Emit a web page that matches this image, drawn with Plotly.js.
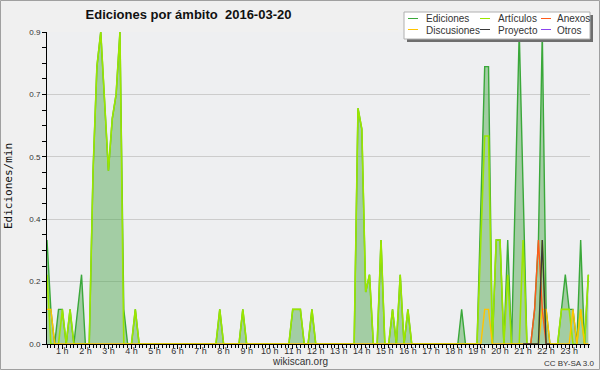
<!DOCTYPE html>
<html>
<head>
<meta charset="utf-8">
<script src="https://cdn.plot.ly/plotly-3.0.1.min.js"></script>
<style>
  html, body { margin: 0; padding: 0; background: #f0f0f0; }
  #chart { width: 600px; height: 370px; }
</style>
</head>
<body>
<div id="chart"></div>
<script>
// ---- time grid: one sample every 10 minutes, 00:20 .. 23:50 ----
const minutes = [];
for (let m = 20; m <= 1430; m += 10) minutes.push(m);

// ---- series values (edits / minute), one line per hour ----
const ediciones = [
  0.3, 0.1, 0, 0.1,                 // 0 h (00:20-00:50)
  0.1, 0, 0.1, 0, 0.1, 0.2,         // 1 h
  0, 0, 0.5, 0.8, 0.9, 0.7,         // 2 h
  0.5, 0.65, 0.72, 0.9, 0.1, 0,     // 3 h
  0, 0.1, 0, 0, 0, 0,               // 4 h
  0, 0, 0, 0, 0, 0,                 // 5 h
  0, 0, 0, 0, 0, 0,                 // 6 h
  0, 0, 0, 0, 0, 0.1,               // 7 h
  0, 0, 0, 0, 0, 0.1,               // 8 h
  0, 0, 0, 0, 0, 0,                 // 9 h
  0, 0, 0, 0, 0, 0,                 // 10 h
  0.1, 0.1, 0.1, 0, 0, 0.1,         // 11 h
  0, 0, 0, 0, 0, 0,                 // 12 h
  0, 0, 0, 0, 0, 0.68,              // 13 h
  0.62, 0.15, 0.2, 0, 0, 0.3,       // 14 h
  0, 0, 0.1, 0, 0.2, 0,             // 15 h
  0.1, 0, 0, 0, 0, 0,               // 16 h
  0, 0, 0, 0, 0, 0,                 // 17 h
  0, 0, 0.1, 0, 0, 0,               // 18 h
  0, 0.4, 0.8, 0.8, 0, 0.3,         // 19 h
  0.3, 0, 0.3, 0, 0.45, 0.9,        // 20 h
  0.45, 0, 0, 0.1, 0.3, 0.9,        // 21 h
  0.1, 0, 0, 0, 0.1, 0.2,           // 22 h
  0.1, 0.1, 0, 0.3, 0, 0.2          // 23 h
];
const articulos = [
  0.2, 0, 0, 0,
  0.1, 0, 0.1, 0, 0, 0,
  0, 0, 0.5, 0.8, 0.9, 0.7,
  0.5, 0.65, 0.72, 0.9, 0, 0,
  0, 0.1, 0, 0, 0, 0,
  0, 0, 0, 0, 0, 0,
  0, 0, 0, 0, 0, 0,
  0, 0, 0, 0, 0, 0.1,
  0, 0, 0, 0, 0, 0.1,
  0, 0, 0, 0, 0, 0,
  0, 0, 0, 0, 0, 0,
  0.1, 0.1, 0.1, 0, 0, 0.1,
  0, 0, 0, 0, 0, 0,
  0, 0, 0, 0, 0, 0.68,
  0.62, 0.15, 0.2, 0, 0, 0.3,
  0, 0, 0.1, 0, 0.2, 0,
  0.1, 0, 0, 0, 0, 0,
  0, 0, 0, 0, 0, 0,
  0, 0, 0, 0, 0, 0,
  0, 0.3, 0.6, 0.6, 0, 0.3,
  0.3, 0, 0.2, 0, 0, 0,
  0.3, 0, 0, 0, 0, 0.3,
  0, 0, 0, 0, 0.1, 0.1,
  0.1, 0, 0, 0.1, 0, 0.2
];
const discusiones = [
  0.1, 0.1, 0, 0,
  0, 0, 0, 0, 0, 0,
  0, 0, 0, 0, 0, 0,
  0, 0, 0, 0, 0, 0,
  0, 0, 0, 0, 0, 0,
  0, 0, 0, 0, 0, 0,
  0, 0, 0, 0, 0, 0,
  0, 0, 0, 0, 0, 0,
  0, 0, 0, 0, 0, 0,
  0, 0, 0, 0, 0, 0,
  0, 0, 0, 0, 0, 0,
  0, 0, 0, 0, 0, 0,
  0, 0, 0, 0, 0, 0,
  0, 0, 0, 0, 0, 0,
  0, 0, 0, 0, 0, 0,
  0, 0, 0, 0, 0, 0,
  0, 0, 0, 0, 0, 0,
  0, 0, 0, 0, 0, 0,
  0, 0, 0, 0, 0, 0,
  0, 0, 0.1, 0.1, 0, 0,
  0, 0, 0, 0, 0, 0,
  0, 0, 0, 0, 0, 0.1,
  0.1, 0, 0, 0, 0, 0,
  0, 0.1, 0, 0.1, 0, 0
];
// Anexos and Proyecto only appear between 21:00 and 22:10
const anexosTimes  = [1260, 1270, 1280, 1290, 1300, 1310, 1320, 1330];
const anexos       = [0, 0, 0, 0.1, 0.3, 0.1, 0, 0];
const proyectoTimes = [1260, 1270, 1280, 1290, 1300, 1310, 1320, 1330];
const proyecto      = [0, 0, 0, 0, 0, 0.3, 0, 0];

const hourTicks = [1,2,3,4,5,6,7,8,9,10,11,12,13,14,15,16,17,18,19,20,21,22,23];
const hourLabels = hourTicks.map(h => h + ' h');
const yTickVals = [0, 0.18, 0.36, 0.54, 0.72, 0.9];
const yTickText = ['0.0', '0.2', '0.4', '0.5', '0.7', '0.9'];

const legendNames  = ['Ediciones', 'Artículos', 'Anexos', 'Discusiones', 'Proyecto', 'Otros'];
const COLORS = {
  Ediciones: '#3aa83a', 'Artículos': '#9be600', Anexos: '#ff5a1a',
  Discusiones: '#ffc400', Proyecto: '#3a3a3a', Otros: '#8a44ee'
};

const toH = a => a.map(m => m / 60);
const hours = toH(minutes);

const traces = [
  { x: hours, y: ediciones, type: 'scatter', mode: 'lines', fill: 'tozeroy',
    fillcolor: 'rgba(70,165,70,0.45)', line: { color: COLORS.Ediciones, width: 1.4 }, name: 'Ediciones' },
  { x: hours, y: articulos, type: 'scatter', mode: 'lines',
    line: { color: COLORS['Artículos'], width: 1.6 }, name: 'Artículos' },
  { x: hours, y: discusiones, type: 'scatter', mode: 'lines',
    line: { color: COLORS.Discusiones, width: 1.4 }, name: 'Discusiones' },
  { x: toH(anexosTimes), y: anexos, type: 'scatter', mode: 'lines',
    line: { color: COLORS.Anexos, width: 1.4 }, name: 'Anexos' },
  { x: toH(proyectoTimes), y: proyecto, type: 'scatter', mode: 'lines',
    line: { color: COLORS.Proyecto, width: 1.4 }, name: 'Proyecto' }
];

// pixel -> paper helpers for the hand-drawn legend box
const M = { l: 47, r: 10, t: 32, b: 26 };
const W = 600, H = 370;
const PW = W - M.l - M.r, PH = H - M.t - M.b;
const px = x => (x - M.l) / PW;
const py = y => (H - M.b - y) / PH;

const shapes = [
  // outer frame
  { type: 'rect', xref: 'paper', yref: 'paper', x0: px(0.5), x1: px(599.5), y0: py(369.5), y1: py(0.5),
    line: { color: '#a0a0a0', width: 1 }, layer: 'above' },
  // legend shadow + box
  { type: 'rect', xref: 'paper', yref: 'paper', x0: px(407), x1: px(593), y0: py(42), y1: py(15),
    line: { width: 0 }, fillcolor: '#6e6e6e', layer: 'above' },
  { type: 'rect', xref: 'paper', yref: 'paper', x0: px(404), x1: px(590), y0: py(39), y1: py(12),
    line: { color: '#b0b0b0', width: 1 }, fillcolor: '#ffffff', layer: 'above' }
];
const annotations = [];
const colLine = [408, 480, 541];
const colText = [424, 496, 555];
const rowY = [18.5, 29.5];
legendNames.forEach((n, i) => {
  const c = i % 3, r = Math.floor(i / 3);
  shapes.push({ type: 'line', xref: 'paper', yref: 'paper', x0: px(colLine[c]), x1: px(colLine[c] + 10),
    y0: py(rowY[r]), y1: py(rowY[r]), line: { color: COLORS[n], width: 1 }, layer: 'above' });
  annotations.push({ xref: 'paper', yref: 'paper', x: px(colText[c]), y: py(rowY[r] + 0.5),
    xanchor: 'left', yanchor: 'middle', text: n, showarrow: false,
    font: { family: 'Liberation Sans', size: 10, color: '#333' } });
});
annotations.push(
  { xref: 'paper', yref: 'paper', x: px(8), y: py(186), textangle: -90, text: 'Ediciones/min',
    showarrow: false, xanchor: 'center', yanchor: 'middle',
    font: { family: 'DejaVu Sans Mono', size: 11, color: '#111' } },
  { xref: 'paper', yref: 'paper', x: px(300), y: py(361.5), text: 'wikiscan.org', showarrow: false,
    xanchor: 'center', yanchor: 'middle', font: { family: 'Liberation Sans', size: 10, color: '#333' } },
  { xref: 'paper', yref: 'paper', x: px(569), y: py(363), text: 'CC BY-SA 3.0', showarrow: false,
    xanchor: 'center', yanchor: 'middle', font: { family: 'Liberation Sans', size: 8, color: '#333' } }
);

const layout = {
  width: W, height: H,
  margin: { l: M.l, r: M.r, t: M.t, b: M.b, pad: 0 },
  paper_bgcolor: '#f0f0f0', plot_bgcolor: '#eeeff1',
  showlegend: false,
  title: { text: 'Ediciones por ámbito\u00a0 2016-03-20', x: 188.5 / W, xanchor: 'center',
    xref: 'container', yref: 'container', y: 1 - 14.5 / H, yanchor: 'middle',
    font: { family: 'Liberation Sans', size: 13, color: '#111', weight: 'bold' } },
  xaxis: {
    range: [20 / 60, 23.905], tickmode: 'array', tickvals: hourTicks, ticktext: hourLabels,
    ticks: 'outside', ticklen: 4, tickcolor: '#000', tickwidth: 1, ticklabelstandoff: -6,
    showgrid: false, zeroline: false, showline: true, linecolor: '#000', linewidth: 1,
    tickfont: { family: 'Liberation Sans', size: 9, color: '#333' },
    minor: { tickmode: 'linear', tick0: 0, dtick: 1 / 6, ticks: 'outside', ticklen: 3, tickcolor: '#000', showgrid: false },
    fixedrange: true
  },
  yaxis: {
    range: [0, 0.9], tickmode: 'array', tickvals: yTickVals, ticktext: yTickText,
    ticks: 'outside', ticklen: 4, tickcolor: '#000', tickwidth: 1,
    showgrid: true, gridcolor: '#cccccc', gridwidth: 1, zeroline: false,
    showline: true, linecolor: '#000', linewidth: 1,
    tickfont: { family: 'Liberation Sans', size: 8, color: '#333' },
    minor: { tickmode: 'linear', tick0: 0, dtick: 0.045, ticks: 'outside', ticklen: 4, tickcolor: '#000', showgrid: false },
    fixedrange: true
  },
  shapes: shapes,
  annotations: annotations
};

Plotly.newPlot('chart', traces, layout, { staticPlot: true, displayModeBar: false });
</script>
</body>
</html>
